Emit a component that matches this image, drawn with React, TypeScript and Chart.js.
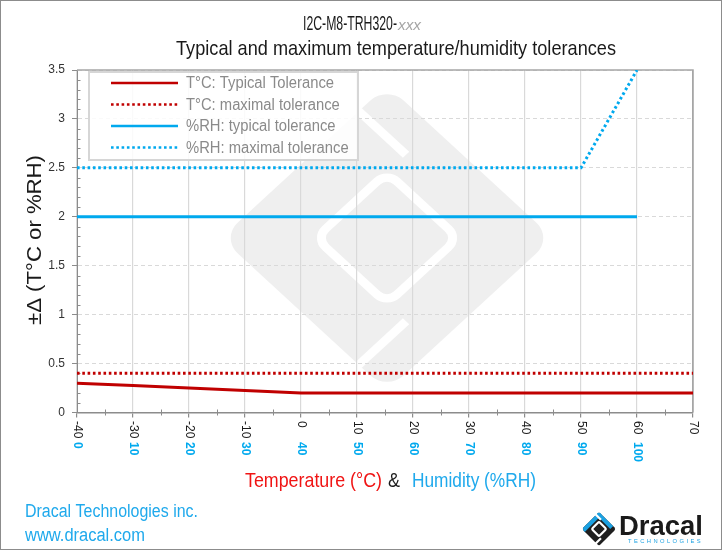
import React, { useEffect, useRef } from 'react';
import { Chart, registerables } from 'chart.js';

Chart.register(...registerables);

// ---------- data ----------
const tempTicks = [-40, -30, -20, -10, 0, 10, 20, 30, 40, 50, 60, 70];
const rhTicks = [0, 10, 20, 30, 40, 50, 60, 70, 80, 90, 100];

const tempX = [-40, -30, -20, -10, 0, 10, 20, 30, 40, 50, 60, 70];
const tempTypical = [0.3, 0.275, 0.25, 0.225, 0.2, 0.2, 0.2, 0.2, 0.2, 0.2, 0.2, 0.2];
const tempMaximal = [0.4, 0.4, 0.4, 0.4, 0.4, 0.4, 0.4, 0.4, 0.4, 0.4, 0.4, 0.4];

const rhX = [0, 10, 20, 30, 40, 50, 60, 70, 80, 90, 100];
const rhTypical = [2, 2, 2, 2, 2, 2, 2, 2, 2, 2, 2];
const rhMaximal = [2.5, 2.5, 2.5, 2.5, 2.5, 2.5, 2.5, 2.5, 2.5, 2.5, 3.5];

const seriesLabels = [
  'T°C: Typical Tolerance',
  'T°C: maximal tolerance',
  '%RH: typical tolerance',
  '%RH: maximal tolerance',
];

const titleMain = 'I2C-M8-TRH320-';
const titleSuffix = 'xxx';
const titleSub = 'Typical and maximum temperature/humidity tolerances';
const yTitle = '±Δ (T°C or %RH)';
const xTitleTemp = 'Temperature (°C)';
const xTitleAmp = '&';
const xTitleRh = 'Humidity (%RH)';
const footer1 = 'Dracal Technologies inc.';
const footer2 = 'www.dracal.com';

const RED = '#C00000';
const BLUE = '#00A9EE';
const FONT = '"Liberation Sans", Arial, sans-serif';
const NARROW = 0.82;

// ---------- helpers ----------
function fitText(
  ctx: CanvasRenderingContext2D,
  text: string,
  x: number,
  y: number,
  font: string,
  color: string,
  width: number | null,
  align: 'left' | 'center' = 'left'
): number {
  ctx.save();
  ctx.font = font;
  ctx.fillStyle = color;
  ctx.textAlign = 'left';
  ctx.textBaseline = 'alphabetic';
  const w = ctx.measureText(text).width;
  const s = width ? width / w : NARROW;
  const realW = w * s;
  const x0 = align === 'center' ? x - realW / 2 : x;
  ctx.translate(x0, y);
  ctx.scale(s, 1);
  ctx.fillText(text, 0, 0);
  ctx.restore();
  return realW;
}

function logoShape(
  ctx: CanvasRenderingContext2D,
  cx: number,
  cy: number,
  half: number,
  sy: number,
  colorA: string,
  colorB: string,
  gap: number
) {
  const s = (half * 2) / Math.SQRT2;
  const r = s * 0.1;
  const inner = s * 0.43;
  ctx.save();
  ctx.translate(cx, cy);
  ctx.scale(1, sy);
  ctx.rotate(Math.PI / 4);
  ctx.beginPath();
  ctx.roundRect(-s / 2, -s / 2, s, s, r);
  ctx.fillStyle = colorB;
  ctx.fill();
  if (colorA !== colorB) {
    ctx.save();
    ctx.clip();
    ctx.beginPath();
    ctx.moveTo(-s, -s * 0.33);
    ctx.lineTo(s * 0.33, -s * 0.33);
    ctx.lineTo(s * 0.33, -s);
    ctx.lineTo(-s, -s);
    ctx.closePath();
    ctx.fillStyle = colorA;
    ctx.fill();
    ctx.beginPath();
    ctx.rect(-s, -s, s * 0.67, s * 2);
    ctx.fill();
    ctx.restore();
  }
  ctx.strokeStyle = '#ffffff';
  ctx.lineWidth = gap;
  ctx.beginPath();
  ctx.roundRect(-inner / 2, -inner / 2, inner, inner, r * 0.6);
  ctx.stroke();
  ctx.beginPath();
  ctx.moveTo(-s / 2 - 2, -s * 0.33);
  ctx.lineTo(-inner / 2, -s * 0.33);
  ctx.moveTo(s * 0.33, s / 2 + 2);
  ctx.lineTo(s * 0.33, inner / 2);
  ctx.stroke();
  ctx.restore();
}

const decorPlugin = {
  id: 'decor',
  beforeDraw(chart: any) {
    const ctx = chart.ctx as CanvasRenderingContext2D;
    ctx.save();
    ctx.fillStyle = '#ffffff';
    ctx.fillRect(0, 0, chart.width, chart.height);
    ctx.restore();
    // watermark
    logoShape(ctx, 387, 238, 166, 0.92, '#efefef', '#efefef', 9);
  },
  beforeDatasetsDraw(chart: any) {
    const ctx = chart.ctx as CanvasRenderingContext2D;
    const xs = chart.scales.x;
    const ys = chart.scales.y;
    const a = chart.chartArea;
    ctx.save();
    // frame top & right
    ctx.strokeStyle = '#a6a6a6';
    ctx.lineWidth = 1.5;
    ctx.beginPath();
    ctx.moveTo(a.left, a.top);
    ctx.lineTo(a.right, a.top);
    ctx.lineTo(a.right, a.bottom);
    ctx.stroke();
    // minor ticks
    ctx.strokeStyle = '#8c8c8c';
    ctx.lineWidth = 1;
    ctx.beginPath();
    for (let i = 0; i < tempTicks.length - 1; i++) {
      const v = (tempTicks[i] + tempTicks[i + 1]) / 2;
      const px = Math.round(xs.getPixelForValue(v)) + 0.5;
      ctx.moveTo(px, a.bottom - 3);
      ctx.lineTo(px, a.bottom + 3);
    }
    for (let k = 1; k < 35; k++) {
      if (k % 5 === 0) continue;
      const py = Math.round(ys.getPixelForValue(k / 10)) + 0.5;
      ctx.moveTo(a.left, py);
      ctx.lineTo(a.left + 3.5, py);
    }
    ctx.stroke();
    ctx.restore();
  },
  afterDraw(chart: any) {
    const ctx = chart.ctx as CanvasRenderingContext2D;
    const xs = chart.scales.x;
    const x2 = chart.scales.x2;

    // ---- legend ----
    ctx.save();
    ctx.fillStyle = 'rgba(255,255,255,0.85)';
    ctx.fillRect(89, 72, 269, 88);
    ctx.strokeStyle = '#d6d6d6';
    ctx.lineWidth = 2;
    ctx.strokeRect(89, 72, 269, 88);
    ctx.font = `16px ${FONT}`;
    const sLeg = 148 / ctx.measureText(seriesLabels[0]).width;
    const rows = [83, 104.5, 126, 147.5];
    chart.data.datasets.forEach((ds: any, i: number) => {
      const y = rows[i];
      ctx.save();
      ctx.strokeStyle = ds.borderColor;
      ctx.lineWidth = 2.5;
      ctx.setLineDash(ds.borderDash || []);
      ctx.beginPath();
      ctx.moveTo(111, y);
      ctx.lineTo(178, y);
      ctx.stroke();
      ctx.restore();
      ctx.save();
      ctx.font = `16px ${FONT}`;
      ctx.fillStyle = '#8a8a8a';
      ctx.textBaseline = 'middle';
      ctx.translate(186, y + 1);
      ctx.scale(sLeg, 1);
      ctx.fillText(ds.label, 0, 0);
      ctx.restore();
    });
    ctx.restore();

    // ---- x tick labels (rotated) ----
    ctx.save();
    ctx.textAlign = 'left';
    ctx.textBaseline = 'middle';
    ctx.font = `12px ${FONT}`;
    ctx.fillStyle = '#1a1a1a';
    tempTicks.forEach((t) => {
      const px = xs.getPixelForValue(t);
      ctx.save();
      ctx.translate(px, 421);
      ctx.rotate(Math.PI / 2);
      ctx.fillText(String(t), 0, 0);
      ctx.restore();
    });
    ctx.font = `bold 12px ${FONT}`;
    ctx.fillStyle = BLUE;
    rhTicks.forEach((t) => {
      const px = x2.getPixelForValue(t);
      ctx.save();
      ctx.translate(px, 442);
      ctx.rotate(Math.PI / 2);
      ctx.fillText(String(t), 0, 0);
      ctx.restore();
    });
    ctx.restore();

    // ---- titles ----
    const wMain = fitText(ctx, titleMain, 303, 30, `20px ${FONT}`, '#1a1a1a', 94);
    fitText(ctx, titleSuffix, 303 + wMain + 1, 30, `italic 14px ${FONT}`, '#a6a6a6', 23);
    fitText(ctx, titleSub, 176, 55, `21px ${FONT}`, '#1a1a1a', 440);

    // y title
    ctx.save();
    ctx.translate(41, 240);
    ctx.rotate(-Math.PI / 2);
    fitText(ctx, yTitle, 0, 0, `21px ${FONT}`, '#1a1a1a', 170, 'center');
    ctx.restore();

    // x title
    fitText(ctx, xTitleTemp, 245, 487, `21px ${FONT}`, '#F01414', 137);
    fitText(ctx, xTitleAmp, 388, 487, `21px ${FONT}`, '#1a1a1a', 12);
    fitText(ctx, xTitleRh, 412, 487, `21px ${FONT}`, '#1FA9EC', 124);

    // footer
    fitText(ctx, footer1, 25, 517, `18px ${FONT}`, '#1FA9EC', 173);
    fitText(ctx, footer2, 25, 541, `18px ${FONT}`, '#1FA9EC', 120);

    // logo
    logoShape(ctx, 599, 529, 17, 1, '#1BA1E2', '#1f1f1f', 2.2);
    fitText(ctx, 'Dracal', 619, 535, `bold 27px ${FONT}`, '#1a1a1a', 84);
    ctx.save();
    (ctx as any).letterSpacing = '2.5px';
    fitText(ctx, 'TECHNOLOGIES', 628, 543, `6px ${FONT}`, '#1BA1E2', 75);
    ctx.restore();

    // outer border
    ctx.save();
    ctx.strokeStyle = '#8c8c8c';
    ctx.lineWidth = 1;
    ctx.strokeRect(0.5, 0.5, chart.width - 1, chart.height - 1);
    ctx.restore();
  },
};

export default function App() {
  const ref = useRef<HTMLCanvasElement>(null);

  useEffect(() => {
    if (!ref.current) return;
    const chart = new Chart(ref.current, {
      type: 'line',
      data: {
        datasets: [
          {
            label: seriesLabels[0],
            data: tempX.map((x, i) => ({ x, y: tempTypical[i] })),
            borderColor: RED,
            borderWidth: 3,
            pointRadius: 0,
            xAxisID: 'x',
            tension: 0,
          },
          {
            label: seriesLabels[1],
            data: tempX.map((x, i) => ({ x, y: tempMaximal[i] })),
            borderColor: RED,
            borderWidth: 3,
            borderDash: [2.6, 2.7],
            pointRadius: 0,
            xAxisID: 'x',
          },
          {
            label: seriesLabels[2],
            data: rhX.map((x, i) => ({ x, y: rhTypical[i] })),
            borderColor: BLUE,
            borderWidth: 3,
            pointRadius: 0,
            xAxisID: 'x2',
          },
          {
            label: seriesLabels[3],
            data: rhX.map((x, i) => ({ x, y: rhMaximal[i] })),
            borderColor: BLUE,
            borderWidth: 3,
            borderDash: [2.6, 2.7],
            pointRadius: 0,
            xAxisID: 'x2',
          },
        ],
      },
      options: {
        responsive: false,
        devicePixelRatio: 1,
        animation: false,
        layout: { padding: { top: 70, right: 29, bottom: 137.5, left: 0 } },
        plugins: { legend: { display: false }, title: { display: false }, tooltip: { enabled: false } },
        scales: {
          x: {
            type: 'linear',
            min: -40,
            max: 70,
            ticks: { stepSize: 10, display: false },
            grid: {
              color: (c: any) => (c.tick && c.tick.value === 70 ? '#a6a6a6' : '#d9d9d9'),
              lineWidth: 1.2,
              drawTicks: true,
              tickLength: 5,
              tickColor: '#8c8c8c',
            },
            border: { display: true, color: '#8c8c8c', width: 1.5 },
            afterFit: (s: any) => {
              s.height = 0;
            },
          },
          x2: {
            type: 'linear',
            min: 0,
            max: 110,
            display: false,
          },
          y: {
            type: 'linear',
            min: 0,
            max: 3.5,
            ticks: {
              stepSize: 0.5,
              padding: 7,
              color: '#333333',
              font: { family: FONT, size: 12 },
              callback: (v: any) => String(v),
            },
            grid: {
              color: (c: any) => (c.tick && c.tick.value === 0 ? 'rgba(0,0,0,0)' : '#d9d9d9'),
              lineWidth: 1,
              drawTicks: true,
              tickLength: 5,
              tickColor: '#8c8c8c',
              tickBorderDash: [],
            },
            border: { display: true, color: '#8c8c8c', width: 1, dash: [4, 3] },
            afterFit: (s: any) => {
              s.width = 77;
            },
          },
        },
      },
      plugins: [decorPlugin],
    } as any);
    return () => chart.destroy();
  }, []);

  return (
    <div style={{ position: 'fixed', left: 0, top: 0, width: 722, height: 550, background: '#fff' }}>
      <canvas ref={ref} width={722} height={550} style={{ width: 722, height: 550, display: 'block' }} />
    </div>
  );
}
